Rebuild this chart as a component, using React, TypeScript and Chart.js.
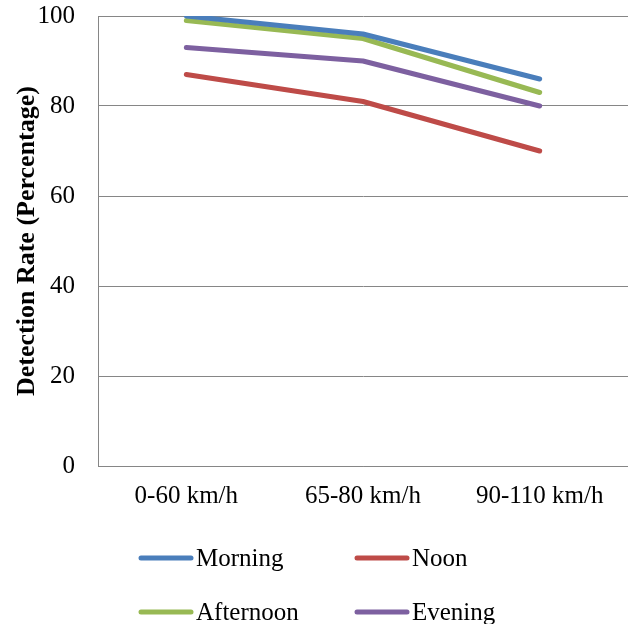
import React, { useEffect, useRef } from "react";
import { Chart, registerables } from "chart.js";
Chart.register(...registerables);

const categories = ["0-60 km/h", "65-80 km/h", "90-110 km/h"];
const morning = [100, 96, 86];
const noon = [87, 81, 70];
const afternoon = [99, 95, 83];
const evening = [93, 90, 80];
const seriesNames = ["Morning", "Noon", "Afternoon", "Evening"];
const seriesColors = ["#4A7EBB", "#BE4B48", "#98B954", "#7D60A0"];
const yMin = 0;
const yMax = 100;
const yStep = 20;
const yTitle = "Detection Rate (Percentage)";

const FONT = "'Liberation Serif', 'Times New Roman', serif";

const legendPlugin = {
  id: "gridLegend",
  afterDraw(chart: any) {
    const ctx = chart.ctx;
    const cols = [139, 355];
    const rows = [558, 612];
    ctx.save();
    ctx.font = `25px ${FONT}`;
    ctx.textBaseline = "middle";
    ctx.textAlign = "left";
    chart.data.datasets.forEach((ds: any, i: number) => {
      const x = cols[i % 2];
      const y = rows[Math.floor(i / 2)];
      ctx.strokeStyle = ds.borderColor;
      ctx.lineWidth = 5;
      ctx.lineCap = "round";
      ctx.beginPath();
      ctx.moveTo(x + 2, y);
      ctx.lineTo(x + 52, y);
      ctx.stroke();
      ctx.fillStyle = "#000";
      ctx.fillText(ds.label, x + 57, y + 1);
    });
    ctx.restore();
  },
};

export default function App() {
  const ref = useRef<HTMLCanvasElement | null>(null);
  useEffect(() => {
    document.body.style.margin = "0";
    const seriesData = [morning, noon, afternoon, evening];
    const chart = new Chart(ref.current as HTMLCanvasElement, {
      type: "line",
      data: {
        labels: categories,
        datasets: seriesData.map((d, i) => ({
          label: seriesNames[i],
          data: d,
          borderColor: seriesColors[i],
          backgroundColor: seriesColors[i],
          borderWidth: 5,
          borderCapStyle: "round",
          borderJoinStyle: "round",
          pointRadius: 0,
          tension: 0,
          fill: false,
        })),
      },
      options: {
        animation: false,
        responsive: false,
        layout: { padding: { top: 16, right: 0, left: 0, bottom: 0 } },
        plugins: { legend: { display: false }, tooltip: { enabled: false } },
        scales: {
          x: {
            offset: true,
            grid: {
              display: false,
              drawTicks: false,
            },
            border: { display: true, color: "#868686", width: 1 },
            ticks: {
              color: "#000",
              font: { family: FONT, size: 25 },
              padding: 15,
              maxRotation: 0,
            },
            afterFit: (s: any) => {
              s.height = 158;
              s.paddingLeft = 0;
              s.paddingRight = 0;
            },
          },
          y: {
            min: yMin,
            max: yMax,
            ticks: {
              stepSize: yStep,
              color: "#000",
              font: { family: FONT, size: 25 },
              padding: 23,
            },
            grid: { color: "#868686", drawTicks: false, lineWidth: 1 },
            border: { display: true, color: "#868686", width: 1 },
            title: {
              display: true,
              text: yTitle,
              color: "#000",
              font: { family: FONT, size: 26, weight: "bold" },
              padding: { top: 12, bottom: 0 },
            },
            afterFit: (s: any) => {
              s.width = 98;
              s.paddingTop = 0;
              s.paddingBottom = 0;
            },
          },
        },
      },
      plugins: [legendPlugin],
    } as any);
    return () => chart.destroy();
  }, []);
  return (
    <div style={{ width: 628, height: 624 }}>
      <canvas ref={ref} width={628} height={624} style={{ display: "block" }} />
    </div>
  );
}
